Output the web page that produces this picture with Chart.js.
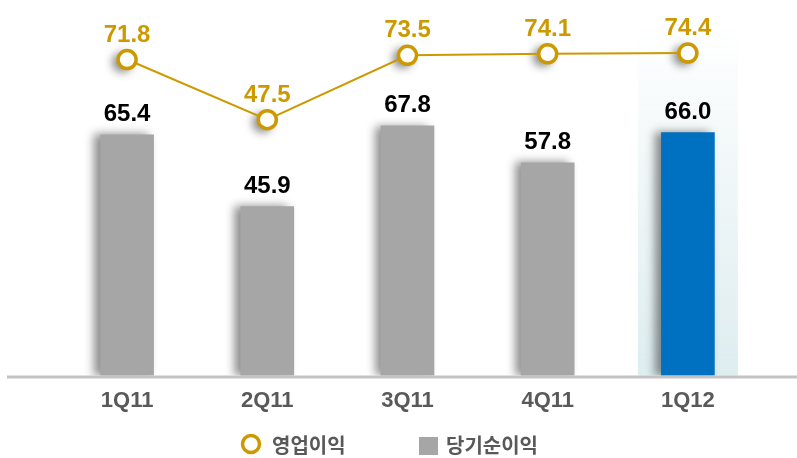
<!DOCTYPE html>
<html>
<head>
<meta charset="utf-8">
<script src="https://cdn.jsdelivr.net/npm/chart.js@4.4.1/dist/chart.umd.min.js"></script>
<style>
  html, body { margin: 0; padding: 0; background: #fff; }
  #wrap { width: 797px; height: 458px; position: relative; }
</style>
</head>
<body>
<div id="wrap"><canvas id="chart"></canvas></div>
<script>
// 분기별 실적
const quarters = ['1Q11', '2Q11', '3Q11', '4Q11', '1Q12'];
const operatingProfit = [71.8, 47.5, 73.5, 74.1, 74.4];   // 영업이익
const netIncome = [65.4, 45.9, 67.8, 57.8, 66.0];         // 당기순이익
const seriesNames = ['영업이익', '당기순이익'];

const GOLD = '#CC9A00';
const GRAY = '#A6A6A6';
const BLUE = '#0070C0';
const TEXT = '#595959';
const FONT = 'Arial, "Liberation Sans", sans-serif';
const HANGUL = '"Noto Sans CJK KR", "Noto Sans", sans-serif';

const barColors = netIncome.map((v, i) => i === netIncome.length - 1 ? BLUE : GRAY);

// 최근 분기 배경 강조
const highlightPlugin = {
  id: 'highlight',
  beforeDatasetsDraw(chart) {
    const { ctx, chartArea, scales } = chart;
    const x = scales.x.getPixelForValue(quarters.length - 1);
    const top = chartArea.top + 15;
    const g = ctx.createLinearGradient(0, top, 0, chartArea.bottom);
    g.addColorStop(0, 'rgba(226,239,241,0)');
    g.addColorStop(0.5, 'rgba(226,239,241,0.6)');
    g.addColorStop(1, 'rgba(222,237,240,1)');
    ctx.save();
    ctx.fillStyle = g;
    ctx.fillRect(x - 50, top, 100, chartArea.bottom - top);
    ctx.restore();
  }
};

// 막대 그림자, 마커 그림자
const shadowPlugin = {
  id: 'shadows',
  beforeDatasetDraw(chart, args) {
    const ctx = chart.ctx;
    const ds = chart.data.datasets[args.index];
    ctx.save();
    if (ds.type === 'bar') {
      ctx.shadowColor = 'rgba(0,0,0,0.45)';
      ctx.shadowBlur = 9;
      ctx.shadowOffsetX = -6;
      ctx.shadowOffsetY = 0;
    } else {
      ctx.filter = 'blur(4px)';
      ctx.fillStyle = 'rgba(0,0,0,0.45)';
      args.meta.data.forEach(pt => {
        ctx.beginPath();
        ctx.arc(pt.x - 5, pt.y + 3, 10, 0, Math.PI * 2);
        ctx.fill();
      });
      ctx.filter = 'none';
    }
  },
  afterDatasetDraw(chart) {
    chart.ctx.restore();
  }
};

// 기준선, 값 표시, 범례
const decorPlugin = {
  id: 'decor',
  afterDatasetsDraw(chart) {
    const { ctx, chartArea } = chart;
    ctx.save();
    ctx.strokeStyle = '#C3C3C3';
    ctx.lineWidth = 3;
    ctx.beginPath();
    ctx.moveTo(7, chartArea.bottom + 1.5);
    ctx.lineTo(chart.width, chartArea.bottom + 1.5);
    ctx.stroke();

    ctx.textAlign = 'center';
    ctx.textBaseline = 'alphabetic';
    ctx.font = 'bold 24px ' + FONT;

    const barMeta = chart.getDatasetMeta(1);
    barMeta.data.forEach((bar, i) => {
      ctx.fillStyle = '#000';
      ctx.fillText(netIncome[i].toFixed(1), bar.x, bar.y - 14);
    });
    const lineMeta = chart.getDatasetMeta(0);
    lineMeta.data.forEach((pt, i) => {
      ctx.fillStyle = GOLD;
      ctx.fillText(operatingProfit[i].toFixed(1), pt.x, pt.y - 18);
    });
    ctx.restore();
  },
  afterDraw(chart) {
    const ctx = chart.ctx;
    const y = 446;
    ctx.save();
    // 영업이익
    ctx.beginPath();
    ctx.arc(251, y - 2, 8.5, 0, Math.PI * 2);
    ctx.fillStyle = '#fff';
    ctx.fill();
    ctx.lineWidth = 3.5;
    ctx.strokeStyle = GOLD;
    ctx.stroke();
    ctx.font = 'bold 20px ' + HANGUL;
    ctx.fillStyle = TEXT;
    ctx.textBaseline = 'middle';
    ctx.textAlign = 'left';
    ctx.fillText(seriesNames[0], 272, y - 1);
    // 당기순이익
    ctx.fillStyle = GRAY;
    ctx.fillRect(419, y - 9, 19, 18);
    ctx.fillStyle = TEXT;
    ctx.fillText(seriesNames[1], 446, y - 1);
    ctx.restore();
  }
};

new Chart(document.getElementById('chart'), {
  data: {
    labels: quarters,
    datasets: [
      {
        type: 'line',
        label: seriesNames[0],
        data: operatingProfit,
        yAxisID: 'y1',
        order: 0,
        borderColor: GOLD,
        borderWidth: 2,
        pointRadius: 9,
        pointBorderWidth: 3.5,
        pointBackgroundColor: '#fff',
        pointBorderColor: GOLD,
        tension: 0
      },
      {
        type: 'bar',
        label: seriesNames[1],
        data: netIncome,
        yAxisID: 'y',
        order: 1,
        backgroundColor: barColors,
        barThickness: 53,
        borderWidth: 0
      }
    ]
  },
  options: {
    responsive: true,
    maintainAspectRatio: false,
    animation: false,
    layout: { padding: { left: 57, right: 39, top: 6, bottom: 40 } },
    plugins: {
      legend: { display: false },
      tooltip: { enabled: false }
    },
    scales: {
      x: {
        grid: { display: false },
        border: { display: false },
        ticks: {
          color: TEXT,
          padding: 4,
          font: { family: FONT, size: 22, weight: 'bold' }
        }
      },
      y: { display: false, min: 0, max: 98.6 },
      y1: { display: false, min: -55.9, max: 90.8 }
    }
  },
  plugins: [highlightPlugin, shadowPlugin, decorPlugin]
});
</script>
</body>
</html>
